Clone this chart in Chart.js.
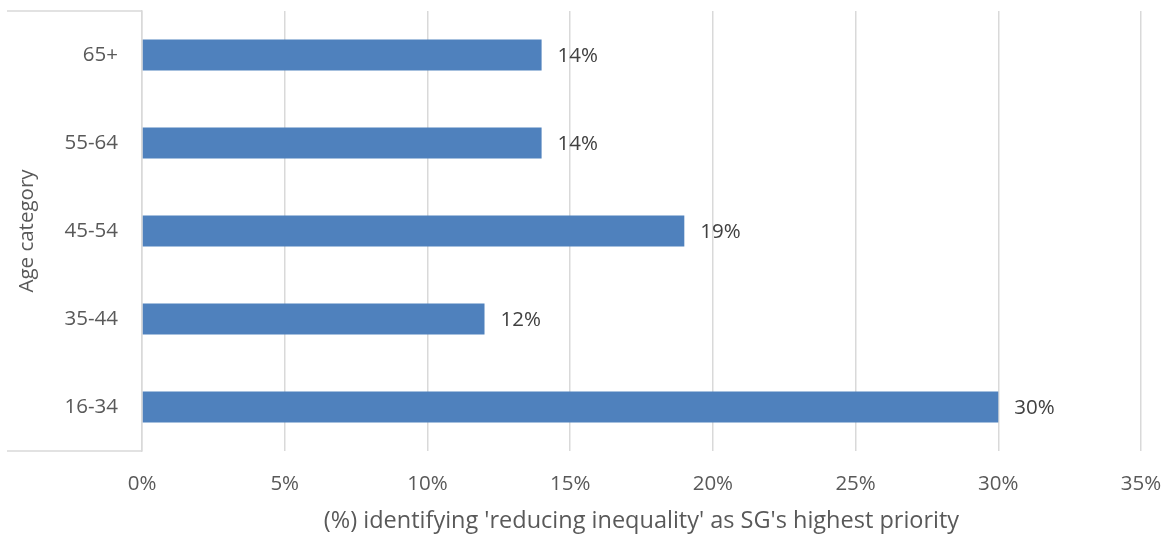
<!DOCTYPE html>
<html>
<head>
<meta charset="utf-8">
<script src="https://cdn.jsdelivr.net/npm/chart.js@4"></script>
<style>
  html, body { margin: 0; padding: 0; background: #fff; }
  #wrap { width: 1165px; height: 536px; }
</style>
</head>
<body>
<div id="wrap"><canvas id="c" width="1165" height="536"></canvas></div>
<script>
const ageCategories = ['16-34', '35-44', '45-54', '55-64', '65+'];
const sharePercent = [30, 12, 19, 14, 14];
const xTickValues = [0, 5, 10, 15, 20, 25, 30, 35];

const FONT = '"Open Sans", sans-serif';
const GRID = '#d9d9d9';

// Value labels just past the end of each bar
const valueLabels = {
  id: 'valueLabels',
  afterDatasetsDraw(chart) {
    const ctx = chart.ctx;
    const meta = chart.getDatasetMeta(0);
    ctx.save();
    ctx.font = '20.5px ' + FONT;
    ctx.fillStyle = '#404040';
    ctx.textAlign = 'left';
    ctx.textBaseline = 'middle';
    meta.data.forEach((bar, i) => {
      ctx.fillText(sharePercent[i] + '%', bar.x + 16, bar.y + 1);
    });
    ctx.restore();
  }
};

// Top and bottom rules of the category label column
const categoryFrame = {
  id: 'categoryFrame',
  beforeDatasetsDraw(chart) {
    const { ctx, chartArea } = chart;
    ctx.save();
    ctx.strokeStyle = GRID;
    ctx.lineWidth = 1.5;
    ctx.beginPath();
    ctx.moveTo(7, chartArea.top);
    ctx.lineTo(chartArea.left, chartArea.top);
    ctx.moveTo(7, chartArea.bottom);
    ctx.lineTo(chartArea.left, chartArea.bottom);
    ctx.stroke();
    ctx.restore();
  }
};

function noScalePadding(scale) {
  scale.paddingTop = 0;
  scale.paddingBottom = 0;
  scale.paddingLeft = 0;
  scale.paddingRight = 0;
}

new Chart(document.getElementById('c'), {
  type: 'bar',
  data: {
    labels: ageCategories,
    datasets: [{
      data: sharePercent,
      backgroundColor: '#4f81bd',
      borderWidth: 0,
      barPercentage: 0.7,
      categoryPercentage: 0.5
    }]
  },
  options: {
    indexAxis: 'y',
    responsive: false,
    animation: false,
    devicePixelRatio: 1,
    layout: { padding: { top: 11, right: 24, left: 0, bottom: 0 } },
    plugins: {
      legend: { display: false },
      tooltip: { enabled: false }
    },
    scales: {
      x: {
        min: 0,
        max: 35,
        afterBuildTicks(scale) {
          scale.ticks = xTickValues.map(v => ({ value: v }));
        },
        afterFit(scale) { scale.height = 85; noScalePadding(scale); },
        grid: { color: GRID, lineWidth: 1.5, drawTicks: false },
        border: { display: false },
        ticks: {
          padding: 21,
          color: '#595959',
          font: { family: FONT, size: 20.5 },
          callback: v => v + '%'
        },
        title: {
          display: true,
          text: "(%) identifying 'reducing inequality' as SG's highest priority",
          color: '#595959',
          font: { family: FONT, size: 23.5 },
          padding: { top: 0, bottom: 1 }
        }
      },
      y: {
        reverse: true,
        afterFit(scale) { scale.width = 142; noScalePadding(scale); },
        grid: { display: false, drawTicks: false },
        border: { display: true, color: GRID, width: 1.5 },
        ticks: {
          padding: 24,
          color: '#595959',
          font: { family: FONT, size: 20.5 }
        },
        title: {
          display: true,
          text: 'Age category',
          color: '#595959',
          font: { family: FONT, size: 20.5 },
          padding: { top: 15, bottom: 0 }
        }
      }
    }
  },
  plugins: [valueLabels, categoryFrame]
});
</script>
</body>
</html>
